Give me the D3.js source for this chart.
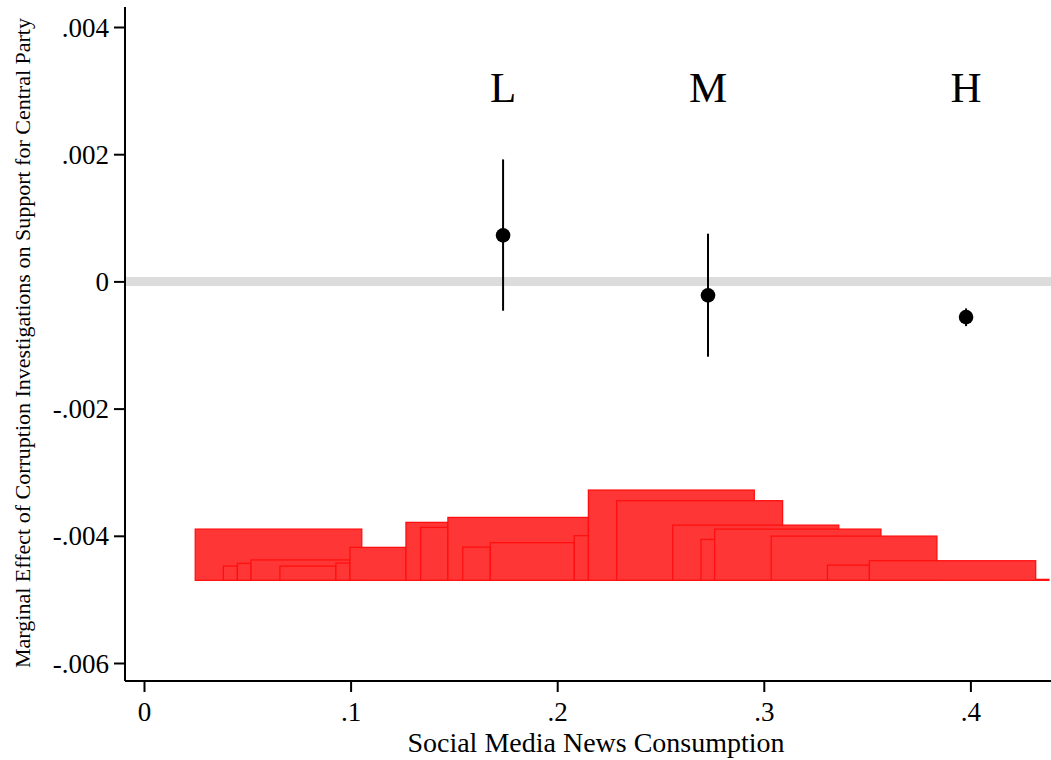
<!DOCTYPE html>
<html lang="en">
<head>
<meta charset="utf-8">
<title>Marginal effect by social media news consumption</title>
<script src="https://d3js.org/d3.v7.min.js"></script>
<style>
  body { margin: 0; background: #fff; }
  text { font-family: "Liberation Serif", "Times New Roman", serif; fill: #000; }
</style>
</head>
<body>
<script>
// point estimates with 95% CI
var groups = ["L", "M", "H"];
var groupX = [0.1738, 0.2730, 0.3979];
var estimate = [0.000723, -0.00022, -0.000561];
var ciLower = [-0.000461, -0.001184, -0.000703];
var ciUpper = [0.001918, 0.00075, -0.000425];

// histogram of social media news consumption (drawn in y units)
var binStart = [0.0248, 0.0384, 0.0452, 0.0518, 0.0658, 0.0929, 0.0997, 0.1268, 0.1339, 0.1471, 0.1543,
                0.1676, 0.2083, 0.2151, 0.2288, 0.2559, 0.2696, 0.2762, 0.3036, 0.3308, 0.3511, 0.4316];
var binEnd   = [0.1054, 0.0452, 0.0518, 0.0997, 0.0929, 0.0997, 0.1268, 0.1471, 0.1471, 0.2151, 0.1676,
                0.2083, 0.2151, 0.2954, 0.3091, 0.3363, 0.2762, 0.3567, 0.3838, 0.3511, 0.4316, 0.4380];
var binTop   = [-0.003895, -0.004476, -0.004434, -0.004379, -0.004476, -0.004429, -0.004182, -0.003789,
                -0.003868, -0.003711, -0.004178, -0.004108, -0.003998, -0.003281, -0.003448, -0.003832,
                -0.004057, -0.003895, -0.004005, -0.004461, -0.004392, -0.004685];
var histBase = -0.0047;

var yTicks = [0.004, 0.002, 0, -0.002, -0.004, -0.006];
var yTickLabels = [".004", ".002", "0", "-.002", "-.004", "-.006"];
var xTicks = [0, 0.1, 0.2, 0.3, 0.4];
var xTickLabels = ["0", ".1", ".2", ".3", ".4"];
var labelY = 0.00282;

var W = 1051, H = 760;
var plotLeft = 125, plotBottom = 681, plotTop = 7, plotRight = 1051;

var svg = d3.select("body").append("svg")
    .attr("width", W)
    .attr("height", H);

var x = d3.scaleLinear().domain([0, 0.4]).range([144, 970.4]);
var y = d3.scaleLinear().domain([-0.006, 0.004]).range([663, 27]);

// zero reference line
svg.append("line")
   .attr("x1", plotLeft).attr("x2", plotRight)
   .attr("y1", y(0)).attr("y2", y(0))
   .style("stroke", "#dcdcdc")
   .style("stroke-width", 9);

// histogram
var bins = binStart.map(function(d, i) {
    return {x0: d, x1: binEnd[i], top: binTop[i]};
});
svg.selectAll(".bin")
   .data(bins)
   .enter()
   .append("rect")
   .attr("class", "bin")
   .attr("x", function(d) { return x(d.x0); })
   .attr("width", function(d) { return x(d.x1) - x(d.x0); })
   .attr("y", function(d) { return y(d.top); })
   .attr("height", function(d) { return y(histBase) - y(d.top); })
   .style("fill", "#ff3636")
   .style("stroke", "#ff1010")
   .style("stroke-width", 1.3);

// CIs and points
var pts = groups.map(function(g, i) {
    return {g: g, x: groupX[i], est: estimate[i], lo: ciLower[i], hi: ciUpper[i]};
});
svg.selectAll(".ci")
   .data(pts)
   .enter()
   .append("line")
   .attr("class", "ci")
   .attr("x1", function(d) { return x(d.x); })
   .attr("x2", function(d) { return x(d.x); })
   .attr("y1", function(d) { return y(d.hi); })
   .attr("y2", function(d) { return y(d.lo); })
   .style("stroke", "#000")
   .style("stroke-width", 2);

svg.selectAll(".dot")
   .data(pts)
   .enter()
   .append("circle")
   .attr("class", "dot")
   .attr("cx", function(d) { return x(d.x); })
   .attr("cy", function(d) { return y(d.est); })
   .attr("r", 7.3)
   .style("fill", "#000");

svg.selectAll(".grp")
   .data(pts)
   .enter()
   .append("text")
   .attr("class", "grp")
   .attr("x", function(d) { return x(d.x); })
   .attr("y", y(labelY))
   .attr("text-anchor", "middle")
   .style("font-size", "43px")
   .text(function(d) { return d.g; });

// axes
var yAxis = svg.append("g")
   .attr("transform", "translate(" + plotLeft + ",0)")
   .call(d3.axisLeft(y).tickValues(yTicks)
         .tickFormat(function(d, i) { return yTickLabels[i]; })
         .tickSize(11).tickPadding(5));
yAxis.select(".domain").attr("d", "M0," + plotTop + "V" + plotBottom);

var xAxis = svg.append("g")
   .attr("transform", "translate(0," + plotBottom + ")")
   .call(d3.axisBottom(x).tickValues(xTicks)
         .tickFormat(function(d, i) { return xTickLabels[i]; })
         .tickSize(11).tickPadding(10));
xAxis.select(".domain").attr("d", "M" + plotLeft + ",0H" + plotRight);

svg.selectAll(".domain").style("stroke", "#000").style("stroke-width", 2);
svg.selectAll(".tick line").style("stroke", "#000").style("stroke-width", 2);
svg.selectAll(".tick text")
   .style("font-family", "'Liberation Serif', 'Times New Roman', serif")
   .style("font-size", "27px")
   .style("fill", "#000");
yAxis.selectAll(".tick text").attr("dy", "0.34em");

// titles
svg.append("text")
   .attr("x", 596)
   .attr("y", 752)
   .attr("text-anchor", "middle")
   .style("font-size", "28px")
   .text("Social Media News Consumption");

svg.append("text")
   .attr("transform", "translate(30,343) rotate(-90)")
   .attr("text-anchor", "middle")
   .style("font-size", "22px")
   .text("Marginal Effect of Corruption Investigations on Support for Central Party");
</script>
</body>
</html>
